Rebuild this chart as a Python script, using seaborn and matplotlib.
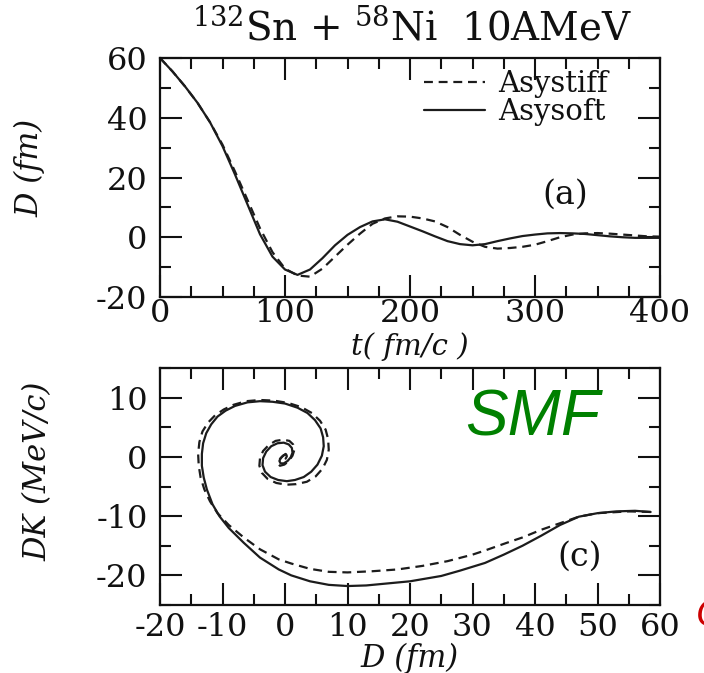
import numpy as np
import pandas as pd
import matplotlib
matplotlib.use("Agg")
import matplotlib.pyplot as plt
from matplotlib.ticker import MultipleLocator
import seaborn as sns

# ---------------- data ----------------
t_fm = [0, 10, 20, 30, 40, 50, 60, 70, 80, 90, 100, 110, 120, 130, 140, 150, 160,
        170, 180, 190, 200, 210, 220, 230, 240, 250, 260, 270, 280, 290, 300, 310,
        320, 330, 340, 350, 360, 370, 380, 390, 400]
D_soft = [60, 55.5, 50.5, 45, 38.5, 30.5, 21, 11, 1, -6.5, -10.8, -12.6, -10.8, -7.0,
          -2.7, 0.8, 3.4, 5.3, 6.0, 5.2, 3.6, 2.0, 0.3, -1.3, -2.3, -2.7, -2.3, -1.3,
          -0.4, 0.4, 0.9, 1.3, 1.4, 1.3, 1.1, 0.7, 0.3, 0.0, -0.2, -0.2, -0.2]
D_stiff = [60, 55.5, 50.5, 45, 38.5, 31, 22, 12.5, 3, -5, -10.5, -12.8, -13.2, -10.5,
           -6.5, -2.5, 1.2, 4.5, 6.3, 7.0, 6.9, 6.3, 5.3, 3.4, 0.8, -1.5, -3.2, -3.8,
           -3.6, -3.2, -2.5, -1.3, 0.0, 0.9, 1.3, 1.4, 1.2, 0.9, 0.6, 0.3, 0.2]

# phase space (D, DK) along the trajectory
ps_D_soft = [58.5, 56, 53, 50, 47, 44, 41, 38, 35, 32, 28, 25, 20, 17, 13, 10, 7, 4, 1,
             -1, -4, -6.6, -9, -10.5, -11.6, -12.5, -13.0, -13.3, -13.3, -13.1, -12.6,
             -11.8, -10.8, -9.5, -8, -6, -4, -2, 0, 2, 3.6, 4.8, 5.7, 6.1, 6.2, 5.9,
             5.2, 4.2, 3, 1.6, 0.3, -1.1, -2.3, -3.2, -3.6, -3.5, -3.0, -2.2, -1.2,
             -0.2, 0.6, 1.1, 1.2, 0.9, 0.4, -0.2, -0.7, -0.9, -0.7, -0.2, 0.2, 0.3, 0.1]
ps_K_soft = [-9.3, -9.1, -9.2, -9.5, -10.1, -11.5, -13.3, -15, -16.5, -17.9, -19.2,
             -20.1, -21, -21.3, -21.7, -21.8, -21.6, -21, -20, -19, -17, -14.5, -12,
             -10, -8, -5.5, -3.5, -1.5, 0.5, 2.3, 4, 5.5, 6.8, 7.8, 8.6, 9.2, 9.4, 9.3,
             9.0, 8.3, 7.4, 6.2, 4.8, 3.3, 1.8, 0.2, -1.3, -2.5, -3.4, -3.9, -4.1, -3.9,
             -3.4, -2.5, -1.4, -0.2, 0.9, 1.8, 2.3, 2.4, 2.1, 1.5, 0.7, -0.1, -0.7,
             -1.1, -1.1, -0.7, -0.2, 0.3, 0.4, 0.1, -0.3]
ps_D_stiff = [58.5, 55, 50, 47, 44, 41, 38, 35.5, 32, 30, 26, 22, 18, 14, 10, 7, 4, 1,
              -1, -4, -6.6, -9, -10.8, -12.0, -12.9, -13.5, -13.8, -13.9, -13.7, -13.2,
              -12.3, -11.2, -9.8, -8.2, -6.2, -4, -1.8, 0.5, 2.6, 4.3, 5.6, 6.5, 6.9,
              7.0, 6.7, 6.0, 4.9, 3.5, 1.8, 0.2, -1.4, -2.8, -3.7, -4.1, -4.0, -3.5,
              -2.6, -1.5, -0.3, 0.7, 1.3, 1.5, 1.2, 0.6, -0.1, -0.8, -1.1, -0.9, -0.4,
              0.1, 0.3, 0.0]
ps_K_stiff = [-9.3, -9.2, -9.5, -10.1, -11.2, -12.3, -13.6, -14.5, -15.8, -16.5, -17.6,
              -18.4, -19, -19.3, -19.5, -19.4, -18.9, -18, -17.3, -15.6, -13.6, -11.5,
              -9.5, -7.5, -5.5, -3.5, -1.5, 0.5, 2.5, 4.3, 5.8, 7.0, 8.0, 8.8, 9.4,
              9.6, 9.5, 9.1, 8.4, 7.4, 6.1, 4.6, 3.0, 1.2, -0.5, -2.0, -3.3, -4.2,
              -4.6, -4.7, -4.4, -3.7, -2.7, -1.5, -0.2, 1.0, 2.0, 2.7, 2.9, 2.7, 2.1,
              1.2, 0.2, -0.7, -1.3, -1.5, -1.2, -0.5, 0.1, 0.5, 0.3, -0.2]

labels = ["Asystiff", "Asysoft"]

# ---------------- style ----------------
sns.set_style("ticks")
plt.rcParams["font.family"] = ["DejaVu Serif"]
plt.rcParams["mathtext.fontset"] = "dejavuserif"
plt.rcParams["axes.unicode_minus"] = False
plt.rcParams["text.color"] = "#111111"
plt.rcParams["axes.labelcolor"] = "#111111"
plt.rcParams["xtick.color"] = "#111111"
plt.rcParams["ytick.color"] = "#111111"

W, H = 704, 673
fig = plt.figure(figsize=(W / 100, H / 100), dpi=100)
fig.patch.set_facecolor("white")

ax1 = fig.add_axes([160 / W, 1 - 297 / H, 500 / W, 239 / H])
ax2 = fig.add_axes([160 / W, 1 - 605 / H, 500 / W, 237 / H])

lc = "#1c1c1c"
dash = (4, 2.6)

sns.lineplot(x=t_fm, y=D_stiff, ax=ax1, color=lc, lw=1.6,
             label=labels[0], estimator=None)
sns.lineplot(x=t_fm, y=D_soft, ax=ax1, color=lc, lw=1.6, label=labels[1], estimator=None)
ax1.lines[0].set_dashes(dash)

sns.lineplot(x=ps_D_stiff, y=ps_K_stiff, ax=ax2, color=lc, lw=1.6, sort=False,
             estimator=None)
sns.lineplot(x=ps_D_soft, y=ps_K_soft, ax=ax2, color=lc, lw=1.6, sort=False,
             estimator=None)
ax2.lines[0].set_dashes(dash)
for ln in ax1.lines + ax2.lines:
    ln.set_solid_joinstyle("round")
    ln.set_dash_joinstyle("round")

ax1.set_xlim(0, 400)
ax1.set_ylim(-20, 60)
ax1.xaxis.set_major_locator(MultipleLocator(100))
ax1.xaxis.set_minor_locator(MultipleLocator(25))
ax1.yaxis.set_major_locator(MultipleLocator(20))
ax1.yaxis.set_minor_locator(MultipleLocator(10))

ax2.set_xlim(-20, 60)
ax2.set_ylim(-25, 15)
ax2.xaxis.set_major_locator(MultipleLocator(10))
ax2.xaxis.set_minor_locator(MultipleLocator(5))
ax2.yaxis.set_major_locator(MultipleLocator(10))
ax2.yaxis.set_minor_locator(MultipleLocator(5))

for ax in (ax1, ax2):
    for s in ax.spines.values():
        s.set_visible(True)
        s.set_linewidth(1.6)
        s.set_color("#111111")
    ax.tick_params(which="both", direction="in", top=True, right=True,
                   width=1.5, color="#111111")
    ax.tick_params(which="major", length=16, labelsize=23)
    ax.tick_params(which="minor", length=8)
    ax.set_facecolor("white")

ax1.tick_params(axis="x", which="major", pad=1)
ax1.tick_params(axis="y", which="major", pad=9)
ax2.tick_params(axis="x", which="major", pad=5)
ax2.tick_params(axis="y", which="major", pad=9)

# axis labels
ax1.set_xlabel("t( fm/c )", fontsize=21, style="italic")
ax1.xaxis.set_label_coords(0.5, (297 - 347) / 239)
ax1.xaxis.label.set_va("center")
ax1.set_ylabel("D (fm)", fontsize=22, style="italic")
ax1.yaxis.set_label_coords((30 - 160) / 500, (297 - 168) / 239)
ax1.yaxis.label.set_va("center")

ax2.set_xlabel("D (fm)", fontsize=22, style="italic")
ax2.xaxis.set_label_coords(0.5, (605 - 658) / 237)
ax2.xaxis.label.set_va("center")
ax2.set_ylabel("DK (MeV/c)", fontsize=22, style="italic")
ax2.yaxis.set_label_coords((38 - 160) / 500, (605 - 471) / 237)
ax2.yaxis.label.set_va("center")

# title
ax1.set_title(r"$^{132}$Sn + $^{58}$Ni  10AMeV", fontsize=28,
              x=(412 - 160) / 500, y=(297 - 36) / 239, va="center")

# legend
leg = ax1.legend(loc="upper right", bbox_to_anchor=((608 - 160) / 500, (297 - 70) / 239),
                 frameon=False, fontsize=21, handlelength=2.1, handletextpad=0.45,
                 labelspacing=0.0, borderpad=0, borderaxespad=0)
for h in leg.get_lines():
    h.set_linewidth(1.6)

# panel tags
ax1.text((565 - 160) / 500, (297 - 195) / 239, "(a)", transform=ax1.transAxes,
         fontsize=24, ha="center", va="center")
ax2.text((580 - 160) / 500, (605 - 557) / 237, "(c)", transform=ax2.transAxes,
         fontsize=24, ha="center", va="center")

# overlay annotations
fig.text(533 / W, 1 - 419 / H, "SMF", color="#008000", fontsize=46,
         family="Liberation Sans", style="italic", ha="center", va="center")
fig.text(696 / W, 1 - 616 / H, "C", color="#cc0000", fontsize=28,
         family="Liberation Sans", style="italic", ha="left", va="center")

fig.savefig("out.png", dpi=100, facecolor="white")
